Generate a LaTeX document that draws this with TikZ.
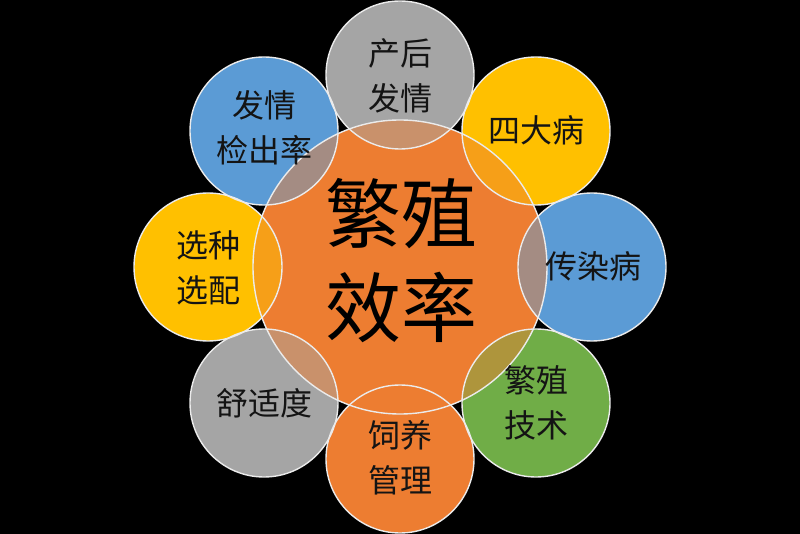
\documentclass[tikz,border=0pt]{standalone}
\usepackage{fontspec}
\newfontfamily\cjk{Noto Sans CJK SC}
\definecolor{cOr}{HTML}{ED7D31}
\definecolor{cBl}{HTML}{5B9BD5}
\definecolor{cGr}{HTML}{A5A5A5}
\definecolor{cYe}{HTML}{FFC000}
\definecolor{cGn}{HTML}{70AD47}
\definecolor{txt}{HTML}{141414}
\begin{document}
\begin{tikzpicture}[x=1pt,y=-1pt,
  ol/.style={draw=white!92!black,line width=1.4pt},
  lbl/.style={align=center,inner sep=0pt,text=txt,font=\cjk\fontsize{32}{45}\selectfont},
  big/.style={align=center,inner sep=0pt,text=black,font=\cjk\fontsize{76}{94}\selectfont}]
\fill[black] (0,0) rectangle (800,534);
\useasboundingbox (0,0) rectangle (800,534);
% fills
\fill[cOr] (400,267) circle (147pt);
\foreach \x/\y/\c in {400/75/cGr,536/131/cYe,592/267/cBl,536/403/cGn,400/459/cOr,264/403/cGr,208/267/cYe,264/131/cBl}
  \fill[\c] (\x,\y) circle (74pt);
% overlaps with centre
\foreach \x/\y/\c in {400/75/cGr,536/131/cYe,592/267/cBl,536/403/cGn,400/459/cOr,264/403/cGr,208/267/cYe,264/131/cBl}{
  \begin{scope}
    \clip (\x,\y) circle (74pt);
    \fill[\c!50!cOr] (400,267) circle (147pt);
  \end{scope}}
% outlines
\draw[ol] (400,267) circle (147pt);
\foreach \x/\y in {400/75,536/131,592/267,536/403,400/459,264/403,208/267,264/131}
  \draw[ol] (\x,\y) circle (74pt);
% labels
\node[big] (ctr) at (401,261) {繁殖\\效率};
\node[lbl] (n1) at (400,76) {产后\\发情};
\node[lbl] (n2) at (536,130) {四大病};
\node[lbl] (n3) at (593,266) {传染病};
\node[lbl] (n4) at (536,403) {繁殖\\技术};
\node[lbl] (n5) at (400,458) {饲养\\管理};
\node[lbl] (n6) at (264,403) {舒适度};
\node[lbl] (n7) at (208,268) {选种\\选配};
\node[lbl] (n8) at (264,128) {发情\\检出率};
\end{tikzpicture}
\end{document}
